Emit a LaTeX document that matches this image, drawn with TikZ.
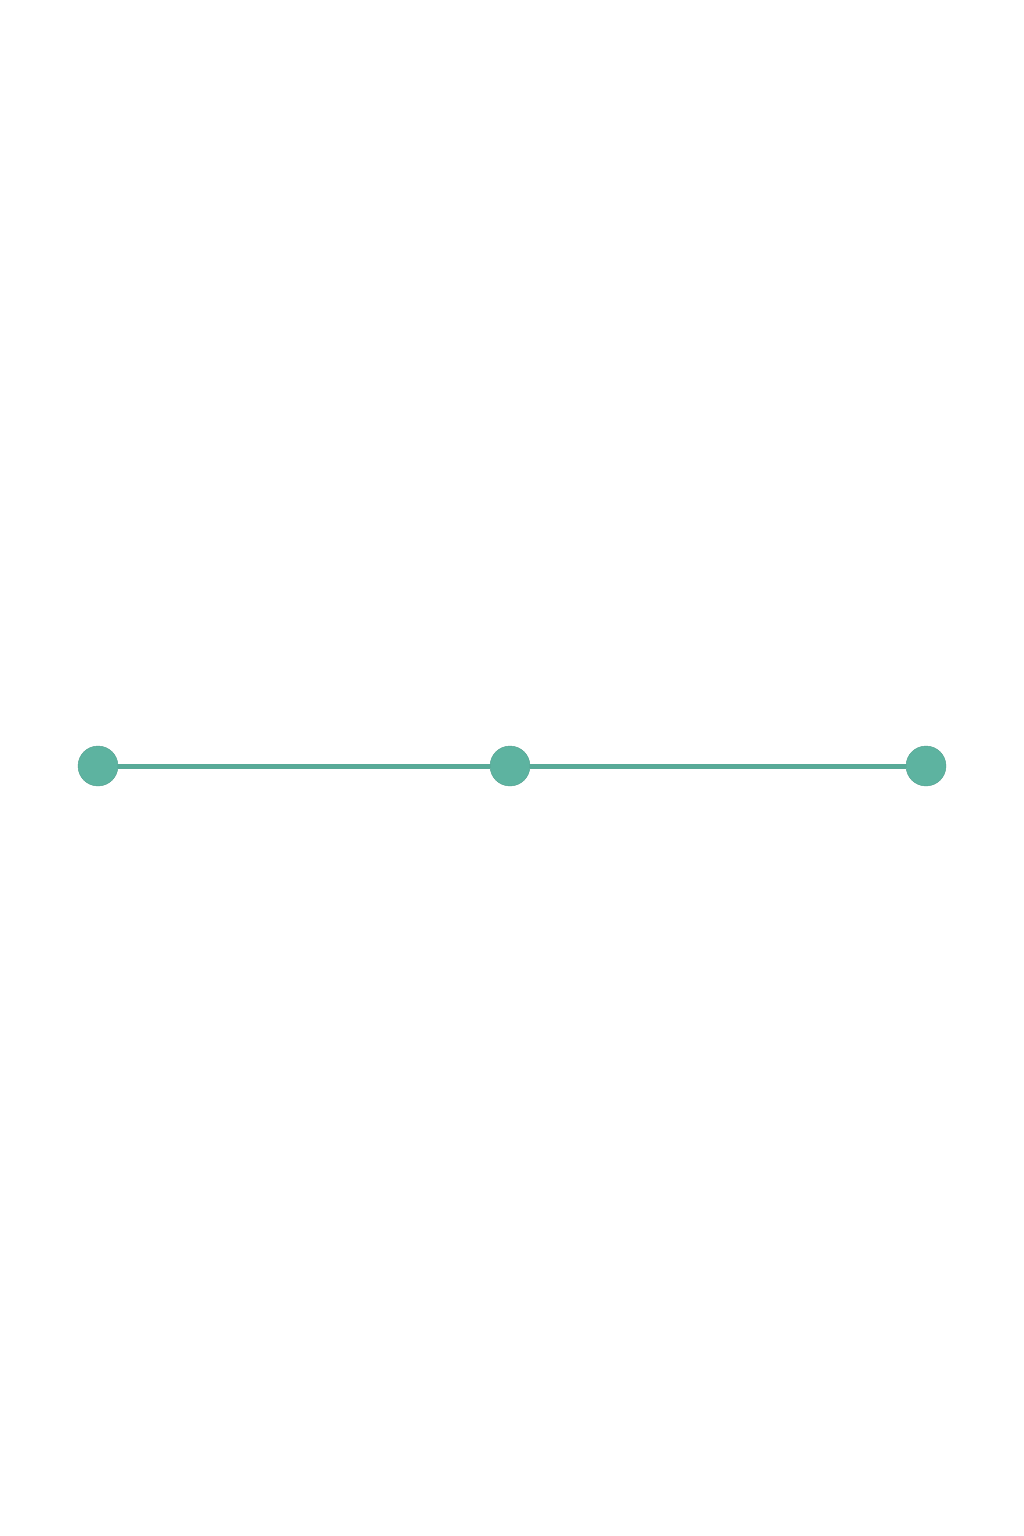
\documentclass[tikz,border=0pt]{standalone}
\definecolor{teal1}{HTML}{5DB3A0}
\begin{document}
\begin{tikzpicture}[x=1pt,y=-1pt,
  dot/.style={circle,fill=teal1,draw=teal1!90!black,line width=0.4pt,minimum size=40pt,inner sep=0pt},
  link/.style={draw=teal1!95!black,line width=5pt}]
\useasboundingbox[fill=white] (0,0) rectangle (1024,1536);
\node[dot] (a) at (98,766) {};
\node[dot] (b) at (510,766) {};
\node[dot] (c) at (926,766) {};
\begin{scope}[on background layer/.try]
\end{scope}
\draw[link] (a) -- (b);
\draw[link] (b) -- (c);
\end{tikzpicture}
\end{document}
